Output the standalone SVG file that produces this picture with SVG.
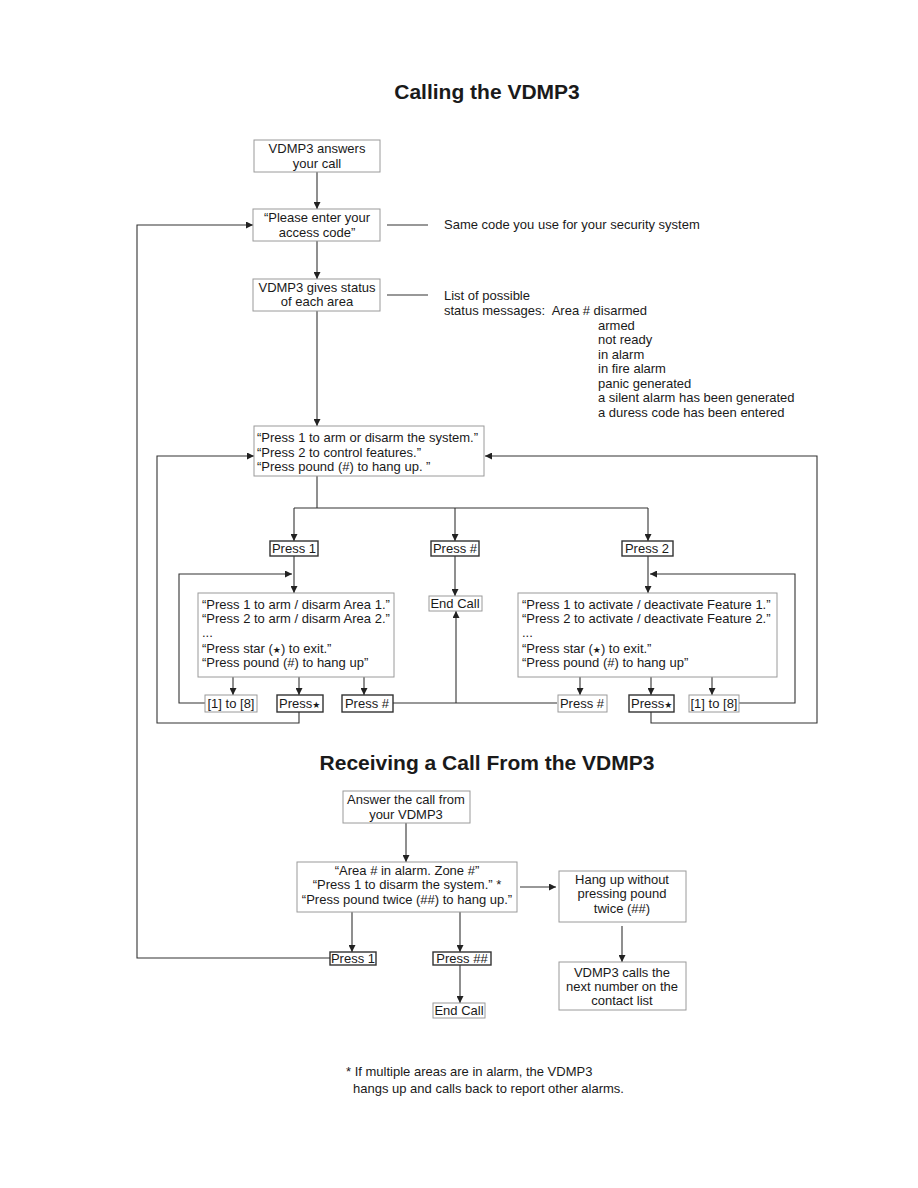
<svg xmlns="http://www.w3.org/2000/svg" width="918" height="1188" viewBox="0 0 918 1188">
<style>
text{font-family:"Liberation Sans",Arial,sans-serif;font-size:13px;fill:#1a1a1a}
.t{font-size:21px;font-weight:bold;text-anchor:middle}
.c{text-anchor:middle}
.box{fill:#fff;stroke:#9a9a9a;stroke-width:1}
.pb{fill:#fff;stroke:#333;stroke-width:1.4}
.ln{fill:none;stroke:#333;stroke-width:1.1}
.ar{fill:none;stroke:#333;stroke-width:1.1;marker-end:url(#ah)}
.st{font-family:"DejaVu Sans",sans-serif;font-size:9px}
</style>
<defs>
<marker id="ah" markerWidth="8" markerHeight="7" refX="7" refY="3.5" orient="auto" markerUnits="userSpaceOnUse">
<path d="M0,0 L7,3.5 L0,7 z" fill="#222"/>
</marker>
</defs>
<rect width="918" height="1188" fill="#fff"/>
<text class="t" x="487" y="99">Calling the VDMP3</text>
<text class="t" x="487" y="770">Receiving a Call From the VDMP3</text>

<g id="connectors">
<line class="ar" x1="317" y1="172" x2="317" y2="209"/>
<line class="ar" x1="317" y1="241" x2="317" y2="279"/>
<line class="ln" x1="387" y1="225" x2="428" y2="225"/>
<line class="ln" x1="387" y1="295" x2="428" y2="295"/>
<line class="ar" x1="317" y1="311" x2="317" y2="426"/>
<polyline class="ln" points="317,476 317,508"/>
<line class="ln" x1="294" y1="508" x2="648" y2="508"/>
<line class="ar" x1="294" y1="508" x2="294" y2="541"/>
<line class="ar" x1="455" y1="508" x2="455" y2="541"/>
<line class="ar" x1="648" y1="508" x2="648" y2="541"/>
<line class="ar" x1="294" y1="556" x2="294" y2="593"/>
<line class="ar" x1="455" y1="556" x2="455" y2="596"/>
<line class="ar" x1="648" y1="556" x2="648" y2="593"/>
<polyline class="ar" points="205,703 179,703 179,574 292,574"/>
<line class="ar" x1="233" y1="677" x2="233" y2="695"/>
<line class="ar" x1="299" y1="677" x2="299" y2="695"/>
<line class="ar" x1="364" y1="677" x2="364" y2="695"/>
<polyline class="ar" points="299,712 299,723 157,723 157,456 254,456"/>
<line class="ln" x1="393" y1="703" x2="557" y2="703"/>
<line class="ar" x1="456" y1="703" x2="456" y2="611"/>
<line class="ar" x1="580" y1="677" x2="580" y2="695"/>
<line class="ar" x1="651" y1="677" x2="651" y2="695"/>
<line class="ar" x1="712" y1="677" x2="712" y2="695"/>
<polyline class="ar" points="739,703 795,703 795,574 650,574"/>
<polyline class="ar" points="651,712 651,723 817,723 817,456 485,456"/>
<line class="ar" x1="406" y1="823" x2="406" y2="862"/>
<line class="ar" x1="352" y1="912" x2="352" y2="952"/>
<line class="ar" x1="460" y1="912" x2="460" y2="952"/>
<line class="ar" x1="460" y1="965" x2="460" y2="1003"/>
<line class="ar" x1="520" y1="887" x2="556" y2="887"/>
<line class="ar" x1="622" y1="926" x2="622" y2="962"/>
<polyline class="ar" points="330,958 137,958 137,225 253,225"/>
</g>

<g id="n-answers"><rect class="box" x="254" y="140" width="126" height="32"/>
<text class="c" x="317" y="153">VDMP3 answers</text><text class="c" x="317" y="168">your call</text></g>
<g id="n-access"><rect class="box" x="253" y="209" width="127" height="32"/>
<text class="c" x="317" y="222">“Please enter your</text><text class="c" x="317" y="237">access code”</text></g>
<text x="444" y="229">Same code you use for your security system</text>
<g id="n-status"><rect class="box" x="253" y="279" width="127" height="32"/>
<text class="c" x="317" y="292">VDMP3 gives status</text><text class="c" x="317" y="306">of each area</text></g>
<g id="status-list">
<text x="444" y="300">List of possible</text>
<text x="444" y="315" xml:space="preserve">status messages:  Area # disarmed</text>
<text x="598" y="330">armed</text>
<text x="598" y="344">not ready</text>
<text x="598" y="359">in alarm</text>
<text x="598" y="373">in fire alarm</text>
<text x="598" y="388">panic generated</text>
<text x="598" y="402">a silent alarm has been generated</text>
<text x="598" y="417">a duress code has been entered</text>
</g>
<g id="n-menu"><rect class="box" x="254" y="426" width="230" height="50"/>
<text x="257" y="442">“Press 1 to arm or disarm the system.”</text>
<text x="257" y="457">“Press 2 to control features.”</text>
<text x="257" y="471">“Press pound (#) to hang up. ”</text></g>
<g id="n-press1"><rect class="pb" x="270" y="541" width="48" height="15"/><text class="c" x="294" y="553">Press 1</text></g>
<g id="n-presshash"><rect class="pb" x="431" y="541" width="48" height="15"/><text class="c" x="455" y="553">Press #</text></g>
<g id="n-press2"><rect class="pb" x="622" y="541" width="51" height="15"/><text class="c" x="647" y="553">Press 2</text></g>
<g id="n-endcall1"><rect class="box" x="429" y="596" width="53" height="15"/><text class="c" x="455" y="608">End Call</text></g>
<g id="n-areas"><rect class="box" x="198" y="593" width="196" height="84"/>
<text x="202" y="609">“Press 1 to arm / disarm Area 1.”</text>
<text x="202" y="623">“Press 2 to arm / disarm Area 2.”</text>
<text x="202" y="637">...</text>
<text x="202" y="653">“Press star (<tspan class="st">★</tspan>) to exit.”</text>
<text x="202" y="667">“Press pound (#) to hang up”</text></g>
<g id="n-l18"><rect class="box" x="205" y="695" width="52" height="17"/><text class="c" x="231" y="708">[1] to [8]</text></g>
<g id="n-lstar"><rect class="pb" x="277" y="695" width="46" height="17"/><text x="279" y="708">Press<tspan class="st">★</tspan></text></g>
<g id="n-lhash"><rect class="pb" x="342" y="695" width="51" height="17"/><text class="c" x="367" y="708">Press #</text></g>
<g id="n-features"><rect class="box" x="518" y="593" width="259" height="84"/>
<text x="522" y="609">“Press 1 to activate / deactivate Feature 1.”</text>
<text x="522" y="623">“Press 2 to activate / deactivate Feature 2.”</text>
<text x="522" y="637">...</text>
<text x="522" y="653">“Press star (<tspan class="st">★</tspan>) to exit.”</text>
<text x="522" y="667">“Press pound (#) to hang up”</text></g>
<g id="n-rhash"><rect class="box" x="558" y="695" width="49" height="17"/><text class="c" x="582" y="708">Press #</text></g>
<g id="n-rstar"><rect class="pb" x="629" y="695" width="45" height="17"/><text x="631" y="708">Press<tspan class="st">★</tspan></text></g>
<g id="n-r18"><rect class="box" x="689" y="695" width="50" height="17"/><text class="c" x="714" y="708">[1] to [8]</text></g>

<g id="n-answer2"><rect class="box" x="343" y="791" width="127" height="32"/>
<text class="c" x="406" y="804">Answer the call from</text><text class="c" x="406" y="819">your VDMP3</text></g>
<g id="n-alarm"><rect class="box" x="297" y="862" width="220" height="50"/>
<text class="c" x="407" y="875">“Area # in alarm. Zone #”</text>
<text class="c" x="407" y="889">“Press 1 to disarm the system.” *</text>
<text class="c" x="407" y="904">“Press pound twice (##) to hang up.”</text></g>
<g id="n-hangup"><rect class="box" x="559" y="871" width="127" height="51"/>
<text class="c" x="622" y="884">Hang up without</text>
<text class="c" x="622" y="898">pressing pound</text>
<text class="c" x="622" y="913">twice (##)</text></g>
<g id="n-nextnum"><rect class="box" x="559" y="962" width="127" height="48"/>
<text class="c" x="622" y="977">VDMP3 calls the</text>
<text class="c" x="622" y="991">next number on the</text>
<text class="c" x="622" y="1005">contact list</text></g>
<g id="n-bpress1"><rect class="pb" x="330" y="952" width="46" height="13"/><text class="c" x="353" y="963">Press 1</text></g>
<g id="n-bpresshh"><rect class="pb" x="433" y="952" width="58" height="13"/><text class="c" x="462" y="963">Press ##</text></g>
<g id="n-endcall2"><rect class="box" x="433" y="1003" width="52" height="15"/><text class="c" x="459" y="1015">End Call</text></g>
<g id="footnote">
<text x="346" y="1076">* If multiple areas are in alarm, the VDMP3</text>
<text x="353" y="1093">hangs up and calls back to report other alarms.</text>
</g>
</svg>
